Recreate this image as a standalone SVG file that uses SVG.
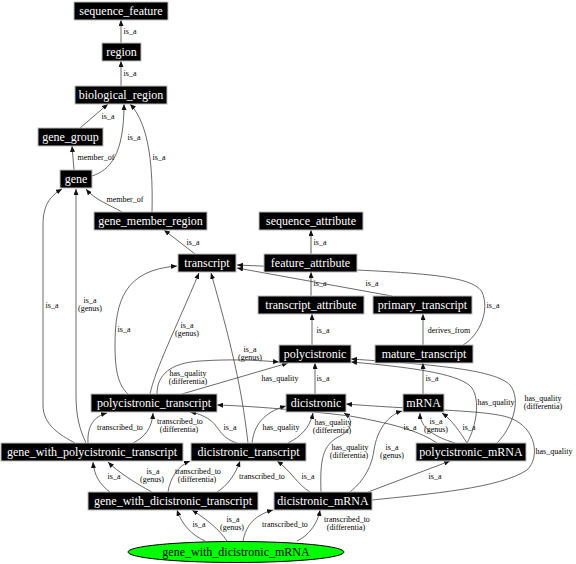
<svg xmlns="http://www.w3.org/2000/svg" width="576" height="564" viewBox="0 0 576 564">
<style>
.node rect{fill:#000;stroke:#bbb;stroke-width:1}
.node text{fill:#fff;font-family:"Liberation Serif","Times New Roman",serif;font-size:12px;text-anchor:middle}
.term ellipse{fill:#00ff00;stroke:#000;stroke-width:1}
.term text{fill:#000;font-family:"Liberation Serif","Times New Roman",serif;font-size:12px;text-anchor:middle}
.edges path{fill:none;stroke:#444;stroke-width:0.8;marker-end:url(#arr)}
.edges path.attr{stroke:#9a9a9a;stroke-width:1.6}
.edges text{fill:#000;font-family:"Liberation Serif","Times New Roman",serif;font-size:8px;text-anchor:middle}
</style>
<defs>
<marker id="arr" viewBox="0 0 6 5" refX="6" refY="2.5" markerWidth="6" markerHeight="5" markerUnits="userSpaceOnUse" orient="auto">
<path d="M0,0 L6,2.5 L0,5 z" fill="#111" stroke="none"/>
</marker>
</defs>
<rect width="576" height="564" fill="#fff"/>
<g id="connectors" class="edges">
<g><path d="M121,43 L121,20"/><text x="130" y="34">is_a</text></g>
<g><path d="M121,86 L121,61"/><text x="130" y="76">is_a</text></g>
<g><path d="M80,128 L108,104"/><text x="108" y="119">is_a</text></g>
<g><path d="M92,176 C110,170 124,155 124,104"/><text x="134" y="140">is_a</text></g>
<g><path d="M74,170 L72,146"/><text x="96" y="160">member_of</text></g>
<g><path d="M152,212 C153,170 150,125 130,104"/><text x="159" y="160">is_a</text></g>
<g><path d="M122,212 C110,205 95,200 86,189"/><text x="125" y="202">member_of</text></g>
<g><path d="M195,254 L164,230"/><text x="193" y="245">is_a</text></g>
<g><path class="attr" d="M311,254 L311,230"/><text x="320" y="245">is_a</text></g>
<g><path class="attr" d="M311,296 L311,272"/><text x="320" y="286">is_a</text></g>
<g><path d="M392,296 L237,268"/><text x="372" y="286">is_a</text></g>
<g><path d="M463,345 C480,335 490,310 482,292 C470,272 400,272 237,265"/><text x="493" y="308">is_a</text></g>
<g><path d="M423,345 L423,314"/><text x="449" y="333">derives_from</text></g>
<g><path d="M312,345 L312,314"/><text x="323" y="333">is_a</text></g>
<g><path d="M315,394 L315,363"/><text x="323" y="381">is_a</text></g>
<g><path d="M423,394 L423,363"/><text x="432" y="381">is_a</text></g>
<g><path d="M128,394 C118,385 115,370 115,345 C115,300 125,270 177,266"/><text x="124" y="332">is_a</text></g>
<g><path d="M150,394 C155,370 175,330 199,273"/><text x="187" y="328">is_a</text><text x="187" y="336">(genus)</text></g>
<g><path d="M157,394 C157,375 170,363 200,361 C230,359 255,360 279,362"/><text x="188" y="376">has_quality</text><text x="188" y="384">(differentia)</text></g>
<g><path d="M182,394 L288,363"/><text x="280" y="381">has_quality</text></g>
<g><path d="M237,443 C220,438 218,425 210,420 C203,415 196,413 190,412"/><text x="230" y="430">is_a</text></g>
<g><path d="M248,443 C243,400 236,360 211,273"/><text x="250" y="352">is_a</text><text x="250" y="360">(genus)</text></g>
<g><path d="M252,443 C254,425 264,412 286,406"/><text x="281" y="430">has_quality</text></g>
<g><path d="M288,443 C300,437 310,428 313,413"/><text x="333" y="425">has_quality</text><text x="332" y="433">(differentia)</text></g>
<g><path d="M88,443 C87,425 95,416 107,413"/><text x="120" y="430">transcribed_to</text></g>
<g><path d="M133,443 C145,437 152,428 153,413"/><text x="180" y="424">transcribed_to</text><text x="179" y="432">(differentia)</text></g>
<g><path d="M75,443 C60,435 43,425 43,405 L43,225 C43,205 50,196 62,189"/><text x="52" y="308">is_a</text></g>
<g><path d="M86,443 C79,428 76,415 76,395 L76,189"/><text x="90" y="303">is_a</text><text x="90" y="311">(genus)</text></g>
<g><path d="M110,492 C100,485 94,475 93,462"/><text x="114" y="479">is_a</text></g>
<g><path d="M152,492 C135,483 118,472 108,462"/><text x="153" y="474">is_a</text><text x="152" y="482">(genus)</text></g>
<g><path d="M168,492 C170,478 178,466 190,461"/><text x="198" y="474">transcribed_to</text><text x="197" y="482">(differentia)</text></g>
<g><path d="M217,492 C228,485 235,475 240,461"/><text x="262" y="479">transcribed_to</text></g>
<g><path d="M310,492 C298,485 290,470 277,461"/><text x="308" y="479">is_a</text></g>
<g><path d="M205,541 C192,535 182,525 177,510"/><text x="199" y="527">is_a</text></g>
<g><path d="M227,541 C220,530 205,518 192,510"/><text x="233" y="522">is_a</text><text x="232" y="530">(genus)</text></g>
<g><path d="M243,541 C246,525 255,515 273,510"/><text x="285" y="527">transcribed_to</text></g>
<g><path d="M297,541 C310,535 318,522 320,510"/><text x="347" y="522">transcribed_to</text><text x="346" y="530">(differentia)</text></g>
<g><path d="M321,492 C320,460 322,445 340,436 C355,428 352,418 344,413"/><text x="350" y="450">has_quality</text><text x="349" y="458">(differentia)</text></g>
<g><path d="M350,492 C365,480 372,465 374,450 C377,430 388,415 402,411"/><text x="392" y="450">is_a</text><text x="392" y="458">(genus)</text></g>
<g><path d="M368,492 L450,461"/><text x="435" y="479">is_a</text></g>
<g><path d="M372,500 C430,494 500,488 527,470 C540,458 537,428 510,418 C490,410 420,410 346,404"/><text x="554" y="454">has_quality</text></g>
<g><path d="M437,443 C420,432 400,425 350,416 C300,410 250,406 217,405"/><text x="410" y="430">is_a</text></g>
<g><path d="M455,443 C435,437 420,428 420,413"/><text x="436" y="424">is_a</text><text x="436" y="432">(genus)</text></g>
<g><path d="M467,443 C460,432 452,420 442,413"/><text x="469" y="430">is_a</text></g>
<g><path d="M467,443 C477,425 480,400 472,388 C462,375 420,368 351,362"/><text x="496" y="405">has_quality</text></g>
<g><path d="M497,443 C512,428 522,400 510,385 C495,370 440,365 351,359"/><text x="543" y="401">has_quality</text><text x="543" y="409">(differentia)</text></g>
</g>
<g id="sequence_feature" class="node"><rect x="74" y="2" width="94" height="18"/><text x="121" y="15">sequence_feature</text></g>
<g id="region" class="node"><rect x="102" y="43" width="39" height="18"/><text x="121.5" y="56">region</text></g>
<g id="biological_region" class="node"><rect x="75" y="86" width="92" height="18"/><text x="121" y="99">biological_region</text></g>
<g id="gene_group" class="node"><rect x="38" y="128" width="65" height="18"/><text x="70.5" y="141">gene_group</text></g>
<g id="gene" class="node"><rect x="60" y="170" width="32" height="18"/><text x="76" y="183">gene</text></g>
<g id="gene_member_region" class="node"><rect x="94" y="212" width="113" height="18"/><text x="150.5" y="225">gene_member_region</text></g>
<g id="sequence_attribute" class="node"><rect x="259" y="212" width="104" height="18"/><text x="311" y="225">sequence_attribute</text></g>
<g id="transcript" class="node"><rect x="178" y="254" width="58" height="18"/><text x="207" y="267">transcript</text></g>
<g id="feature_attribute" class="node"><rect x="264" y="254" width="93" height="18"/><text x="310.5" y="267">feature_attribute</text></g>
<g id="transcript_attribute" class="node"><rect x="258" y="296" width="106" height="18"/><text x="311" y="309">transcript_attribute</text></g>
<g id="primary_transcript" class="node"><rect x="373" y="296" width="99" height="18"/><text x="422.5" y="309">primary_transcript</text></g>
<g id="polycistronic" class="node"><rect x="279" y="345" width="72" height="18"/><text x="315" y="358">polycistronic</text></g>
<g id="mature_transcript" class="node"><rect x="375" y="345" width="98" height="18"/><text x="424" y="358">mature_transcript</text></g>
<g id="polycistronic_transcript" class="node"><rect x="91" y="394" width="126" height="18"/><text x="154" y="407">polycistronic_transcript</text></g>
<g id="dicistronic" class="node"><rect x="286" y="394" width="60" height="18"/><text x="316" y="407">dicistronic</text></g>
<g id="mRNA" class="node"><rect x="403" y="394" width="41" height="18"/><text x="423.5" y="407">mRNA</text></g>
<g id="gene_with_polycistronic_transcript" class="node"><rect x="1" y="443" width="182" height="18"/><text x="92" y="456">gene_with_polycistronic_transcript</text></g>
<g id="dicistronic_transcript" class="node"><rect x="191" y="443" width="115" height="18"/><text x="248.5" y="456">dicistronic_transcript</text></g>
<g id="polycistronic_mRNA" class="node"><rect x="416" y="443" width="110" height="18"/><text x="471" y="456">polycistronic_mRNA</text></g>
<g id="gene_with_dicistronic_transcript" class="node"><rect x="88" y="492" width="170" height="18"/><text x="173" y="505">gene_with_dicistronic_transcript</text></g>
<g id="dicistronic_mRNA" class="node"><rect x="274" y="492" width="98" height="18"/><text x="323" y="505">dicistronic_mRNA</text></g>
<g id="gene_with_dicistronic_mRNA" class="term"><ellipse cx="236" cy="552" rx="108" ry="10.5"/><text x="236" y="556">gene_with_dicistronic_mRNA</text></g>
</svg>
